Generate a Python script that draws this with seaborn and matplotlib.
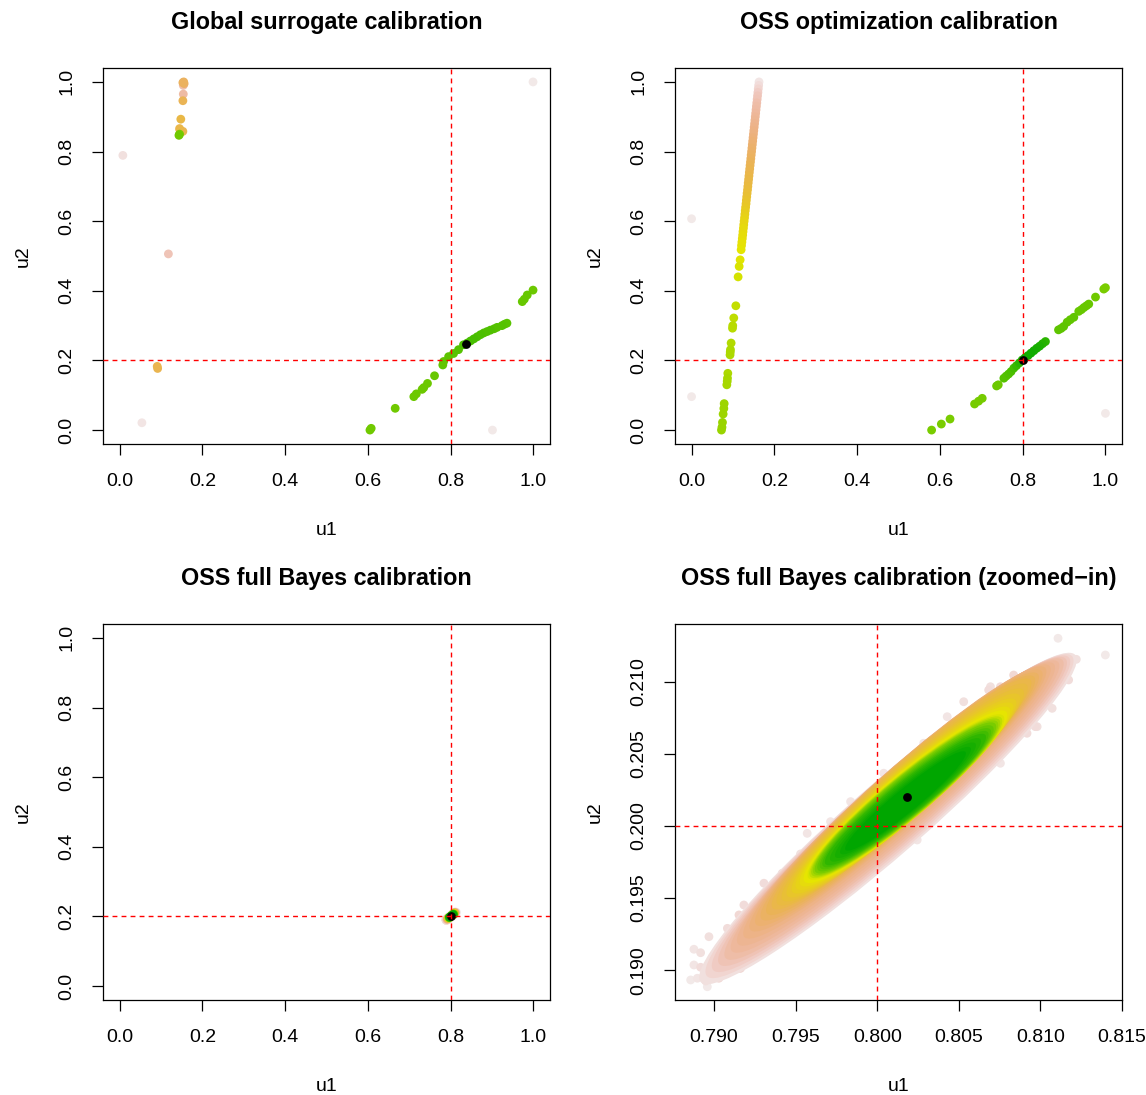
import numpy as np
import pandas as pd
import matplotlib
matplotlib.use("Agg")
import matplotlib.pyplot as plt
import seaborn as sns
from matplotlib.colors import hsv_to_rgb, ListedColormap
from matplotlib.patches import Ellipse
from matplotlib.transforms import IdentityTransform

# ---------------- data ----------------
unit_ticks = [0.0, 0.2, 0.4, 0.6, 0.8, 1.0]
zoom_xticks = [0.790, 0.795, 0.800, 0.805, 0.810, 0.815]
zoom_yticks = [0.190, 0.195, 0.200, 0.205, 0.210]
true_u1, true_u2 = 0.8, 0.2

# Global surrogate calibration: u1, u2, density level (0 = sparse, 1 = dense)
gs_u1 = [0.008, 0.054, 0.999, 0.901, 0.118,
         0.155, 0.153, 0.156, 0.154, 0.154, 0.153, 0.148, 0.145, 0.146, 0.153, 0.1435, 0.145,
         0.091, 0.092,
         0.605, 0.608, 0.666, 0.711, 0.717, 0.731, 0.735, 0.744, 0.761, 0.781, 0.783, 0.795,
         0.807, 0.819, 0.831, 0.840, 0.848, 0.856, 0.864, 0.872, 0.880, 0.888, 0.896, 0.905,
         0.912, 0.924, 0.930, 0.936, 0.973, 0.978, 0.985, 0.999]
gs_u2 = [0.789, 0.021, 1.000, 0.000, 0.506,
         1.000, 0.998, 0.995, 0.990, 0.965, 0.946, 0.893, 0.866, 0.862, 0.858, 0.8466, 0.850,
         0.183, 0.177,
         0.000, 0.005, 0.0625, 0.096, 0.104, 0.117, 0.122, 0.134, 0.156, 0.187, 0.197, 0.211,
         0.220, 0.231, 0.245, 0.250, 0.256, 0.262, 0.268, 0.274, 0.279, 0.283, 0.287, 0.291,
         0.295, 0.300, 0.304, 0.307, 0.369, 0.376, 0.388, 0.402]
gs_dens = [0.04, 0.03, 0.02, 0.02, 0.12,
           0.30, 0.30, 0.28, 0.14, 0.16, 0.32, 0.35, 0.34, 0.33, 0.33, 0.72, 0.70,
           0.33, 0.33,
           0.72, 0.72, 0.72, 0.73, 0.73, 0.73, 0.73, 0.73, 0.74, 0.75, 0.75, 0.76,
           0.77, 0.78, 0.80, 0.81, 0.81, 0.81, 0.80, 0.80, 0.79, 0.79, 0.79, 0.78,
           0.78, 0.78, 0.77, 0.77, 0.74, 0.74, 0.74, 0.73]
gs_best = (0.838, 0.247)

# OSS optimization calibration
oo_u1 = [0.000, 0.000, 1.000,
         0.0723, 0.0735, 0.0747, 0.0763, 0.0780, 0.0788, 0.0852, 0.0862, 0.0868, 0.0876,
         0.0930, 0.0935, 0.0940, 0.0956, 0.0989, 0.0995, 0.1020, 0.1070, 0.1125, 0.1150,
         0.1174, 0.1198,
         0.1207, 0.1216, 0.1226, 0.1235, 0.1243, 0.1253, 0.1261, 0.1270, 0.1280, 0.1288,
         0.1297, 0.1306, 0.1316, 0.1324, 0.1333, 0.1342, 0.1352, 0.1360, 0.1369, 0.1378,
         0.1387, 0.1396, 0.1405, 0.1414, 0.1423, 0.1432, 0.1441, 0.1450, 0.1459, 0.1468,
         0.1477, 0.1486, 0.1495, 0.1504, 0.1513, 0.1522, 0.1531, 0.1540, 0.1549, 0.1558,
         0.1567, 0.1576, 0.1585, 0.1594, 0.1603, 0.1612, 0.1621, 0.1630,
         0.580, 0.6035, 0.6245, 0.6838, 0.6935, 0.7023, 0.737, 0.741, 0.7546, 0.760, 0.766,
         0.772, 0.7787, 0.785, 0.792, 0.799, 0.806, 0.813, 0.820, 0.827, 0.834, 0.841, 0.848,
         0.855, 0.8866, 0.893, 0.899, 0.9075, 0.915, 0.9236, 0.9355, 0.942, 0.948, 0.954,
         0.9597, 0.976, 0.996, 1.000]
oo_u2 = [0.607, 0.096, 0.048,
         0.000, 0.008, 0.022, 0.046, 0.062, 0.076, 0.130, 0.140, 0.149, 0.163,
         0.216, 0.224, 0.231, 0.250, 0.2926, 0.300, 0.322, 0.357, 0.440, 0.470,
         0.489, 0.518,
         0.53, 0.54, 0.55, 0.56, 0.57, 0.58, 0.59, 0.60, 0.61, 0.62,
         0.63, 0.64, 0.65, 0.66, 0.67, 0.68, 0.69, 0.70, 0.71, 0.72,
         0.73, 0.74, 0.75, 0.76, 0.77, 0.78, 0.79, 0.80, 0.81, 0.82,
         0.83, 0.84, 0.85, 0.86, 0.87, 0.88, 0.89, 0.90, 0.91, 0.92,
         0.93, 0.94, 0.95, 0.96, 0.97, 0.98, 0.99, 1.00,
         0.000, 0.0173, 0.0317, 0.0749, 0.083, 0.0912, 0.1267, 0.130, 0.149, 0.155, 0.161,
         0.168, 0.178, 0.185, 0.193, 0.2015, 0.208, 0.214, 0.221, 0.228, 0.235, 0.241, 0.248,
         0.2543, 0.2879, 0.292, 0.2975, 0.310, 0.317, 0.324, 0.341, 0.346, 0.352, 0.357,
         0.362, 0.382, 0.405, 0.409]
oo_dens = [0.02, 0.02, 0.02,
           0.64, 0.64, 0.64, 0.63, 0.63, 0.63, 0.61, 0.61, 0.61, 0.60,
           0.60, 0.60, 0.60, 0.59, 0.58, 0.58, 0.57, 0.56, 0.53, 0.52,
           0.51, 0.50,
           0.49, 0.49, 0.48, 0.48, 0.47, 0.47, 0.46, 0.46, 0.45, 0.44,
           0.43, 0.42, 0.41, 0.40, 0.39, 0.38, 0.37, 0.36, 0.35, 0.35,
           0.34, 0.33, 0.33, 0.32, 0.31, 0.30, 0.29, 0.28, 0.27, 0.26,
           0.25, 0.24, 0.23, 0.22, 0.21, 0.20, 0.19, 0.18, 0.17, 0.16,
           0.15, 0.14, 0.12, 0.11, 0.09, 0.07, 0.05, 0.03,
           0.70, 0.70, 0.70, 0.71, 0.71, 0.71, 0.73, 0.73, 0.78, 0.78, 0.79,
           0.80, 0.82, 0.85, 0.88, 0.90, 0.93, 0.95, 0.95, 0.94, 0.93, 0.92, 0.90,
           0.88, 0.76, 0.76, 0.76, 0.75, 0.75, 0.75, 0.74, 0.74, 0.74, 0.74,
           0.74, 0.72, 0.70, 0.70]
oo_best = (0.8013, 0.2016)

# OSS full Bayes posterior cloud: sparse edge samples
fb_edge_u1 = [0.78877, 0.78918, 0.78877, 0.78918, 0.78857, 0.78898, 0.78949, 0.78990, 0.79030,
              0.78959, 0.79159, 0.78969, 0.79082, 0.79153, 0.79183, 0.79306, 0.79418, 0.79530,
              0.79275, 0.79377, 0.79500, 0.79622, 0.79673, 0.79755, 0.79051, 0.79235,
              0.81398, 0.81108, 0.81220, 0.81173, 0.81072, 0.80980, 0.80755, 0.80571, 0.80429,
              0.80285, 0.80143, 0.80040, 0.79837, 0.79714, 0.79571, 0.80398, 0.80245, 0.79959,
              0.79837, 0.79673, 0.79388, 0.79163, 0.80918, 0.80694, 0.80530, 0.80775, 0.80612,
              0.80755, 0.80683, 0.80836, 0.80969, 0.80918]
fb_edge_u2 = [0.19145, 0.19121, 0.19036, 0.19020, 0.18932, 0.18944, 0.18925, 0.18944, 0.18944,
              0.18885, 0.19013, 0.19232, 0.19290, 0.19383, 0.19452, 0.19603, 0.19672, 0.19806,
              0.19105, 0.19186, 0.19383, 0.19417, 0.19440, 0.19533, 0.19048, 0.19140,
              0.21186, 0.21302, 0.21156, 0.21013, 0.20816, 0.20689, 0.20435, 0.20307, 0.20758,
              0.20574, 0.20411, 0.20366, 0.20169, 0.20030, 0.19949, 0.20111, 0.19903, 0.19718,
              0.19603, 0.19417, 0.19232, 0.19013, 0.20874, 0.20966, 0.20862, 0.20631, 0.20504,
              0.20966, 0.20943, 0.21047, 0.20689, 0.20643]
fb_edge_dens = [0.03, 0.04, 0.03, 0.05, 0.02, 0.03, 0.04, 0.05, 0.06,
                0.02, 0.07, 0.04, 0.05, 0.06, 0.05, 0.05, 0.05, 0.04,
                0.06, 0.07, 0.05, 0.04, 0.04, 0.04, 0.06, 0.07,
                0.02, 0.02, 0.04, 0.05, 0.04, 0.04, 0.03, 0.03, 0.03,
                0.03, 0.03, 0.03, 0.03, 0.03, 0.03, 0.03, 0.03, 0.03,
                0.03, 0.04, 0.04, 0.05, 0.05, 0.04, 0.04, 0.04, 0.04,
                0.05, 0.05, 0.06, 0.05, 0.05]

# OSS full Bayes posterior cloud: density bands (major-axis ends, vertical width in u2, level)
band_u1_lo = [0.78918, 0.79071, 0.79224, 0.79359, 0.79481, 0.79579, 0.79622, 0.79683, 0.79806]
band_u2_lo = [0.18918, 0.19084, 0.19279, 0.19431, 0.19542, 0.19639, 0.19681, 0.19736, 0.19834]
band_u1_hi = [0.81214, 0.81135, 0.81030, 0.80939, 0.80847, 0.80773, 0.80724, 0.80663, 0.80541]
band_u2_hi = [0.21186, 0.21151, 0.21096, 0.21013, 0.20874, 0.20763, 0.20708, 0.20631, 0.20513]
band_width = [0.00660, 0.00570, 0.00505, 0.00455, 0.00420, 0.00385, 0.00350, 0.00290, 0.00205]
band_dens = [0.04, 0.15, 0.24, 0.34, 0.43, 0.52, 0.70, 0.87, 1.00]
fb_best = (0.8018, 0.2020)

titles = ["Global surrogate calibration", "OSS optimization calibration",
          "OSS full Bayes calibration", "OSS full Bayes calibration (zoomed\u2212in)"]

# ---------------- style ----------------
sns.set_theme(style="white")
plt.rcParams["font.family"] = ["Liberation Sans", "DejaVu Sans"]
plt.rcParams["axes.unicode_minus"] = True


def terrain(t):
    t = float(np.clip(t, 0, 1))
    if t >= 0.5:
        f = (t - 0.5) / 0.5
        h, s, v = 2 / 12 + f * 2 / 12, 1.0, 0.9 - 0.25 * f
    else:
        f = t / 0.5
        h, s, v = f * 2 / 12, f, 0.95 - 0.05 * f
    return hsv_to_rgb([h, s, v])


cmap = ListedColormap([terrain(x) for x in np.linspace(0, 1, 256)])

W, H = 1146, 1095
fig = plt.figure(figsize=(W / 100, H / 100), dpi=100)
fig.patch.set_facecolor("white")


def box(x0, y0, x1, y1):
    return [x0 / W, 1 - y1 / H, (x1 - x0) / W, (y1 - y0) / H]


ax_tl = fig.add_axes(box(103, 68, 550, 444))
ax_tr = fig.add_axes(box(675, 68, 1122, 444))
ax_bl = fig.add_axes(box(103, 624, 550, 1000))
ax_br = fig.add_axes(box(675, 624, 1122, 1000))

PT = 40  # marker area


def points(ax, u1, u2, dens, z=2):
    df = pd.DataFrame({"u1": u1, "u2": u2, "d": dens}).sort_values("d", kind="stable")
    sns.scatterplot(data=df, x="u1", y="u2", hue="d", palette=cmap, hue_norm=(0, 1),
                    s=PT, linewidth=0, legend=False, ax=ax, zorder=z)


def best(ax, pt):
    sns.scatterplot(x=[pt[0]], y=[pt[1]], color="black", s=PT, linewidth=0, ax=ax,
                    legend=False, zorder=5)


def style(ax, xticks, yticks, fmt, title, xlim, ylim):
    ax.set_xlim(*xlim)
    ax.set_ylim(*ylim)
    ax.set_xticks(xticks)
    ax.set_xticklabels([fmt.format(v) for v in xticks])
    ax.set_yticks(yticks)
    ax.set_yticklabels([fmt.format(v) for v in yticks], rotation=90, va="center")
    for sp in ax.spines.values():
        sp.set_visible(True)
        sp.set_color("black")
        sp.set_linewidth(0.9)
    ax.tick_params(axis="both", which="major", direction="out", length=7.9, width=0.9,
                   color="black", labelcolor="black", labelsize=14, pad=12,
                   bottom=True, left=True, top=False, right=False)
    ax.tick_params(axis="x", pad=13)
    ax.set_xlabel("u1", fontsize=14, labelpad=23, color="black")
    ax.set_ylabel("u2", fontsize=14, labelpad=19, color="black")
    ax.set_title(title, fontsize=16.8, fontweight="bold", pad=28, color="black")
    ax.grid(False)
    ax.set_facecolor("white")


def truth(ax):
    ax.axvline(true_u1, color="red", lw=1.0, ls=(0, (3.5, 3.0)), zorder=6)
    ax.axhline(true_u2, color="red", lw=1.0, ls=(0, (3.5, 3.0)), zorder=6)


def band_geom(ax, k):
    pix_per_u2 = ax.transData.transform((0, 1))[1] - ax.transData.transform((0, 0))[1]
    p1 = ax.transData.transform((band_u1_lo[k], band_u2_lo[k]))
    p2 = ax.transData.transform((band_u1_hi[k], band_u2_hi[k]))
    c = (p1 + p2) / 2
    d = p2 - p1
    a = np.hypot(*d) / 2
    th = np.arctan2(d[1], d[0])
    h = band_width[k] * pix_per_u2 / 2
    q = 1 / h ** 2 - np.sin(th) ** 2 / a ** 2
    b = np.cos(th) / np.sqrt(q) if q > 0 else h
    return np.array([c[0], c[1], a, b, th])


def draw_ellipse(ax, g, t, z):
    e = Ellipse((g[0], g[1]), 2 * g[2], 2 * g[3], angle=np.degrees(g[4]),
                transform=IdentityTransform(), facecolor=cmap(t), edgecolor="none", zorder=z)
    e.set_clip_path(ax.patch)
    ax.add_artist(e)


def cloud(ax, dots):
    points(ax, fb_edge_u1, fb_edge_u2, fb_edge_dens, z=2)
    geoms = [band_geom(ax, k) for k in range(len(band_dens))]
    z = 3.0
    for k in range(len(band_dens)):
        if k > 0:
            # soft transition between consecutive density bands
            for s in (0.25, 0.5, 0.75):
                g = (1 - s) * geoms[k - 1] + s * geoms[k]
                t = (1 - s) * band_dens[k - 1] + s * band_dens[k]
                z += 0.001
                draw_ellipse(ax, g, t, z)
        z += 0.001
        draw_ellipse(ax, geoms[k], band_dens[k], z)
    if dots:
        du1, du2, dd = [], [], []
        for k in range(len(band_dens)):
            du1 += [band_u1_lo[k], (band_u1_lo[k] + band_u1_hi[k]) / 2, band_u1_hi[k]]
            du2 += [band_u2_lo[k], (band_u2_lo[k] + band_u2_hi[k]) / 2, band_u2_hi[k]]
            dd += [band_dens[k]] * 3
        points(ax, du1, du2, dd, z=4)


unit_lim = (-0.04, 1.04)

style(ax_tl, unit_ticks, unit_ticks, "{:.1f}", titles[0], unit_lim, unit_lim)
points(ax_tl, gs_u1, gs_u2, gs_dens)
best(ax_tl, gs_best)
truth(ax_tl)

style(ax_tr, unit_ticks, unit_ticks, "{:.1f}", titles[1], unit_lim, unit_lim)
points(ax_tr, oo_u1, oo_u2, oo_dens)
best(ax_tr, oo_best)
truth(ax_tr)

style(ax_bl, unit_ticks, unit_ticks, "{:.1f}", titles[2], unit_lim, unit_lim)
cloud(ax_bl, dots=True)
best(ax_bl, fb_best)
truth(ax_bl)

style(ax_br, zoom_xticks, zoom_yticks, "{:.3f}", titles[3], (0.78761, 0.81500), (0.18793, 0.21401))
cloud(ax_br, dots=False)
best(ax_br, fb_best)
truth(ax_br)

fig.savefig("out.png", dpi=100, facecolor="white")
